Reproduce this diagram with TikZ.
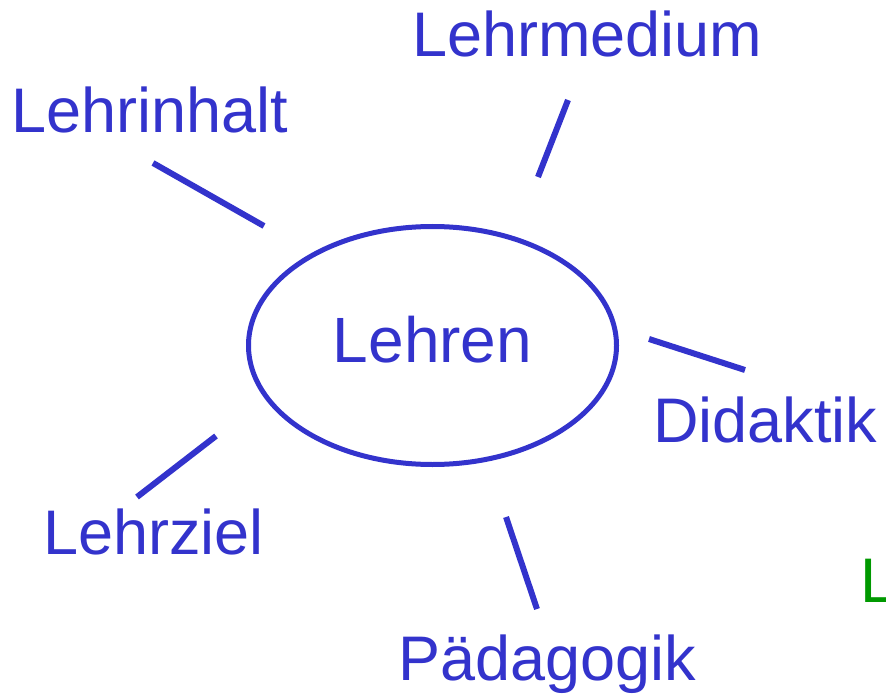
\documentclass[tikz,border=0pt]{standalone}
\usepackage{fontspec}
\setmainfont{Liberation Sans}
\usepackage{xcolor}
\usepackage{tikz}
\usetikzlibrary{shapes.geometric, positioning}
\definecolor{lehrblau}{HTML}{3333CC}
\definecolor{lehrgruen}{HTML}{009900}
\tikzstyle{begriff} = [anchor=base west, inner sep=0pt, text=lehrblau, font=\fontsize{63}{70}\selectfont]
\tikzstyle{mitte} = [draw=lehrblau, ellipse, line width=5pt, minimum width=368pt, minimum height=238pt, inner sep=0pt, text=lehrblau, text height=46pt, text depth=12pt, font=\fontsize{64}{70}\selectfont]
\tikzstyle{speiche} = [draw=lehrblau, line width=6pt]

\begin{document}
\begin{tikzpicture}[x=1pt, y=-1pt]
    \useasboundingbox (0,0) rectangle (886,695);
    \node (lehren) [mitte] at (432.5,345.5) {Lehren};
    \node (inhalt) [begriff] at (11,133) {Lehrinhalt};
    \node (medium) [begriff] at (412,57) {Lehrmedium};
    \node (didaktik) [begriff] at (653,442) {Didaktik};
    \node (ziel) [begriff] at (43,554) {Lehrziel};
    \node (paed) [begriff] at (398,680) {Pädagogik};
    \node (rest) [begriff, text=lehrgruen] at (860,602) {L};
    \coordinate (inhaltA) at (153,163);
    \coordinate (inhaltB) at (264,226);
    \coordinate (mediumA) at (568,100);
    \coordinate (mediumB) at (538,177);
    \coordinate (didaktikA) at (649,339);
    \coordinate (didaktikB) at (745,370);
    \coordinate (zielA) at (216,436);
    \coordinate (zielB) at (137,497);
    \coordinate (paedA) at (506,517);
    \coordinate (paedB) at (537,609);
    \draw [speiche] (inhaltA) -- (inhaltB);
    \draw [speiche] (mediumA) -- (mediumB);
    \draw [speiche] (didaktikA) -- (didaktikB);
    \draw [speiche] (zielA) -- (zielB);
    \draw [speiche] (paedA) -- (paedB);
\end{tikzpicture}
\end{document}
